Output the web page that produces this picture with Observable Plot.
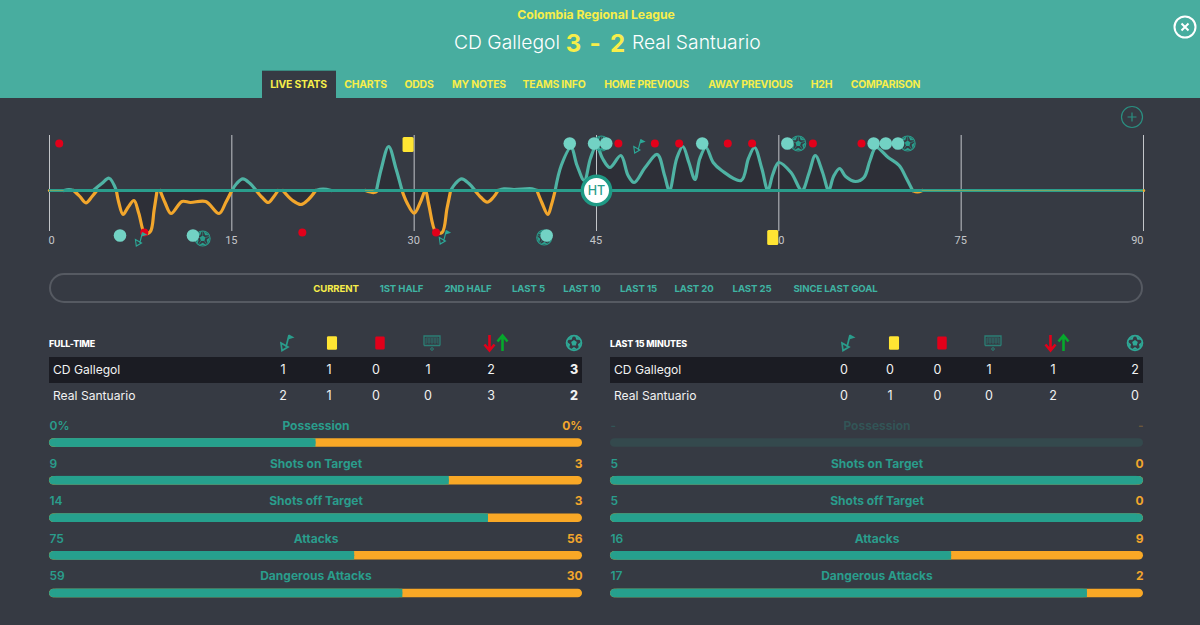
<!DOCTYPE html>
<html><head><meta charset="utf-8">
<script src="https://cdn.jsdelivr.net/npm/d3@7"></script>
<script src="https://cdn.jsdelivr.net/npm/@observablehq/plot@0.6"></script>
<style>
html,body{margin:0;padding:0;background:#363a43;}
#root{position:relative;width:1200px;height:625px;overflow:hidden;background:#363a43;font-family:Inter,"Open Sans",sans-serif;color:#fff;}
#root>div,#root>svg{position:absolute;}
.abs{position:absolute;white-space:nowrap;}
.c{transform:translate(-50%,-50%);}
svg{overflow:visible;}
</style></head><body><div id="root"></div>
<script>
// ---------- data ----------
const league = "Colombia Regional League";
const homeTeam = "CD Gallegol", awayTeam = "Real Santuario", score = ["3","-","2"];
const tabs = ["LIVE STATS","CHARTS","ODDS","MY NOTES","TEAMS INFO","HOME PREVIOUS","AWAY PREVIOUS","H2H","COMPARISON"];
const filters = ["CURRENT","1ST HALF","2ND HALF","LAST 5","LAST 10","LAST 15","LAST 20","LAST 25","SINCE LAST GOAL"];
const minuteTicks = [0,15,30,45,60,75,90];

// momentum curve: [minute, value]
const homeMomentum = [[0,0],[1.2,0],[1.6,1],[2,0],[3.6,0],[4.3,7],[4.9,12.3],[5.5,0],[15,0],[15.4,7],[15.9,11.7],[16.5,7],[17,0],[21.9,0],[22.5,1.3],[23.2,0],[26.9,0],[27.3,22],[27.9,44],[28.5,22],[29,0],[33,0],[33.4,7],[33.9,11.7],[34.5,7],[35,0],[36.9,0],[37.4,1.7],[38.2,1],[39.7,1.7],[40.1,0],[41.6,0],[42.1,25],[42.9,43],[43.4,25],[44,10],[44.5,32],[45,45],[45.5,32],[46.1,23],[47,35],[47.6,15],[48.1,8],[49,23],[50,36],[50.6,15],[51,0],[51.6,32],[52.1,44],[52.6,28],[53.1,11],[53.5,32],[54,43],[54.6,28],[55.3,20],[56.9,10],[57.5,32],[58,43],[58.6,22],[59.1,0],[59.5,16],[60,28],[61,18],[61.9,0],[62.5,18],[63,35],[63.6,18],[64.1,0],[64.5,14],[65,22],[65.5,14],[66.3,9],[67,13],[67.5,30],[68,43],[69,33],[69.9,25],[70.5,12],[71,0],[90,0]];
const awayMomentum = [[0,0],[2,0],[2.5,-6],[3,-12.3],[3.5,-6],[3.9,0],[5.5,0],[5.7,-12],[6.05,-24],[6.45,-17],[6.95,-10],[7.35,-23],[7.85,-43],[8.3,-41],[8.6,-20],[8.85,0],[9.1,0],[9.5,-12],[10,-23],[10.9,-11],[11.6,-12],[12.85,-11],[13.95,-23],[14.5,-12],[15,0],[17,0],[17.5,-7],[18,-12],[18.4,-7],[18.8,0],[19.2,0],[20,-10],[20.7,-14],[21.3,-9],[21.9,0],[26,0],[26.7,-2],[27,0],[29,0],[29.4,-12],[30,-22.7],[30.5,-12],[30.93,0],[31.2,-14],[31.8,-42],[32.3,-42],[32.7,-18],[33,0],[35,0],[35.5,-7],[36,-11.7],[36.5,-7],[36.9,0],[40.1,0],[40.5,-12],[41,-24],[41.3,-14],[41.6,0],[71,0],[71.4,-1.5],[71.8,0],[90,0]];
const quietStretches = [[0,1.2],[26,26.7],[71.8,90]];

// lanes of the event marks, on the momentum scale
const laneTop = 47, laneRed = -42, laneFlagTop = 44, laneFlagBottom = -49, laneBall = -48;
const redEvents = [[0.8,laneTop],[7.8,laneRed],[20.8,laneRed],[31.8,laneRed],[46.8,laneTop],[49.8,laneTop],[51.8,laneTop],[55.8,laneTop],[57.8,laneTop],[62.8,laneTop],[66.8,laneTop]];
const attackEvents = [[5.8,-45],[11.8,-45],[40.9,-45],[42.8,laneTop],[44.8,laneTop],[45.8,laneTop],[53.7,laneTop],[60.7,laneTop],[67.8,laneTop],[68.8,laneTop],[69.8,laneTop]];
const goalEvents = [[12.6,laneBall],[40.7,-47],[45.4,laneTop],[61.6,laneTop],[70.6,laneTop]];
const cornerEvents = [[7.5,laneFlagBottom],[32.5,-47],[48.5,laneFlagTop]];
const yellowEvents = [[29.5,46],[59.5,-47]];

const statColumns = ["corners","yellow","red","saves","subs","goals"];
const fullTimeTitle = "FULL-TIME", lastTitle = "LAST 15 MINUTES";
const fullHome = [1,1,0,1,2,3], fullAway = [2,1,0,0,3,2];
const lastHome = [0,0,0,1,1,2], lastAway = [0,1,0,0,2,0];

const statNames = ["Possession","Shots on Target","Shots off Target","Attacks","Dangerous Attacks"];
const fullHomeStats = [0,9,14,75,59], fullAwayStats = [0,3,3,56,30];
const fullHomeLabels = ["0%","9","14","75","59"], fullAwayLabels = ["0%","3","3","56","30"];
const lastHomeStats = [null,5,5,16,17], lastAwayStats = [null,0,0,9,2];
const lastHomeLabels = ["-","5","5","16","17"], lastAwayLabels = ["-","0","0","9","2"];

// ---------- colours ----------
const TEAL="#26a08d", TEALTXT="#2a9d8c", CURVE="#4fb3a4", ORANGE="#f2a62c", BAR_OR="#f9a826", DOT="#72d2c4", RED="#e2001a", YEL="#ffe533", TABYEL="#f7ee4a", AREA="#2d2f37";
const CURVE_KIND="catmull-rom";

// ---------- symbols ----------
const R = s => Math.sqrt(s/Math.PI);
function drawBallRing(c,r){ c.moveTo(r,0); c.arc(0,0,r,0,2*Math.PI); }
function drawBallPatches(c,r){
  const pts=[]; for(let i=0;i<5;i++){const a=-Math.PI/2+i*2*Math.PI/5; pts.push(a);}
  const q=r*0.4;
  pts.forEach((a,i)=>{ const x=Math.cos(a)*q,y=Math.sin(a)*q; i?c.lineTo(x,y):c.moveTo(x,y); }); c.closePath();
  pts.forEach(a=>{
    const o=a+Math.PI/5;
    const p=(ang,rad)=>[Math.cos(ang)*rad,Math.sin(ang)*rad];
    c.moveTo(...p(o-0.5,r)); c.lineTo(...p(o+0.5,r)); c.lineTo(...p(o,r*0.55)); c.closePath();
  });
}
function drawBallSpokes(c,r){
  for(let i=0;i<5;i++){
    const a=-Math.PI/2+i*2*Math.PI/5;
    c.moveTo(Math.cos(a)*r*0.4,Math.sin(a)*r*0.4); c.lineTo(Math.cos(a)*r*0.95,Math.sin(a)*r*0.95);
  }
}
function drawFlagLines(c,r){
  const u=r/8;
  c.moveTo(-1*u,4*u); c.lineTo(2*u,-8*u);
  c.moveTo(-6*u,0*u); c.lineTo(1*u,4*u); c.lineTo(-5*u,7.5*u); c.closePath();
}
function drawFlagCloth(c,r){
  const u=r/8;
  c.moveTo(2*u,-8.5*u); c.lineTo(7.5*u,-5.5*u); c.lineTo(1*u,-3.5*u); c.closePath();
}
function drawCard(c,r){
  const w=r*0.74,h=r,k=r*0.2;
  c.moveTo(-w+k,-h); c.lineTo(w-k,-h); c.arcTo(w,-h,w,-h+k,k); c.lineTo(w,h-k); c.arcTo(w,h,w-k,h,k);
  c.lineTo(-w+k,h); c.arcTo(-w,h,-w,h-k,k); c.lineTo(-w,-h+k); c.arcTo(-w,-h,-w+k,-h,k); c.closePath();
}
const sym = f => ({draw(c,s){f(c,R(s));}});
const pathOf = (f,r)=>{const p=d3.path(); f(p,r); return p.toString();};

const root = document.getElementById("root");
const add = (html)=>{const t=document.createElement("div"); t.innerHTML=html; return root.appendChild(t.firstElementChild);};
function text(s,x,y,css){add(`<div class="abs c" style="left:${x}px;top:${y}px;${css}">${s}</div>`);}
function textL(s,x,y,css){add(`<div class="abs" style="left:${x}px;top:${y}px;transform:translateY(-50%);${css}">${s}</div>`);}

// ---------- header ----------
add(`<div style="left:0;top:0;width:1200px;height:98px;background:#48ad9f"></div>`);
text(league,596,13.5,`font-size:12.2px;font-weight:700;color:${TABYEL}`);
add(`<div class="abs" style="right:${1200-560}px;top:42px;transform:translateY(-50%);font-size:19.3px;font-weight:300;color:#fff">${homeTeam}</div>`);
textL(awayTeam,632,42,`font-size:19.3px;font-weight:300;color:#fff`);
[573.5,595,617.5].forEach((x,i)=>text(score[i],x,43,`font-size:24px;font-weight:700;color:${TABYEL}`));
add(`<svg style="left:1173px;top:15px" width="24" height="24"><circle cx="12" cy="12" r="10.5" fill="none" stroke="#fff" stroke-width="2"/><path d="M8.5 8.5L15.5 15.5M15.5 8.5L8.5 15.5" stroke="#fff" stroke-width="2"/></svg>`);
add(`<div style="left:262px;top:70px;width:74px;height:28px;background:#363a43;border-top:1px solid #3b8a80;box-sizing:border-box"></div>`);
const tabX=[298.5,365.5,419,479,554,646.5,750.5,821.5,885.5];
tabs.forEach((t,i)=>text(t,tabX[i],84,`font-size:10.4px;font-weight:700;letter-spacing:-.2px;color:${TABYEL}`));
add(`<svg style="left:1120px;top:105px" width="24" height="24"><circle cx="12" cy="12" r="10.5" fill="none" stroke="#2a8f81" stroke-width="1.2"/><path d="M7.5 12H16.5M12 7.5V16.5" stroke="#2a8f81" stroke-width="1.2"/></svg>`);

// ---------- timeline ----------
// each swing away from the baseline is its own series, so the curve stays flat between swings
function toEpisodes(a){
  let ep=0; const rows=[];
  a.forEach(([minute,value],i)=>{
    if(i&&value===0&&a[i-1][1]===0) ep++;
    rows.push({minute,value,ep});
  });
  return rows;
}
const home = toEpisodes(homeMomentum), away = toEpisodes(awayMomentum);
const ev = a => a.map(([minute,lane])=>({minute,lane}));
const tickFill="#c4c6ca";
const series=(fillOrStroke)=>({x:"minute",y:"value",z:"ep",curve:CURVE_KIND,...fillOrStroke});
const timeline = Plot.plot({
  width:1200,height:150,marginLeft:49,marginRight:57,marginTop:0,marginBottom:0,
  style:{background:"transparent",overflow:"visible"},
  x:{domain:[0,90],axis:null},
  y:{domain:[-60,90],axis:null},
  marks:[
    Plot.areaY(home,series({fill:AREA})),
    Plot.areaY(away,series({fill:AREA})),
    Plot.ruleX(minuteTicks,{y1:55,y2:-41,stroke:"#c3c5c9",strokeWidth:1}),
    Plot.lineY(home,series({stroke:CURVE,strokeWidth:3.2})),
    Plot.lineY(away,series({stroke:ORANGE,strokeWidth:3.2})),
    Plot.ruleY([0],{stroke:"#2a9d8c",strokeWidth:2.8}),
    Plot.ruleY(quietStretches,{x1:d=>d[0],x2:d=>d[1],y:()=>0,stroke:"#8fa85a",strokeWidth:0.8}),
    Plot.text(minuteTicks.slice(0,1),{x:d=>d,y:()=>-50,text:d=>String(d),dx:2,fill:tickFill,fontSize:11,fontFamily:"Roboto"}),
    Plot.text(minuteTicks.slice(1,6),{x:d=>d,y:()=>-50,text:d=>String(d),dx:-0.5,fill:tickFill,fontSize:11,fontFamily:"Roboto"}),
    Plot.text(minuteTicks.slice(6),{x:d=>d,y:()=>-50,text:d=>String(d),textAnchor:"end",fill:tickFill,fontSize:11,fontFamily:"Roboto"}),
    Plot.dot(goalEvents,{x:d=>d[0],y:d=>d[1],symbol:sym(drawBallRing),r:7.5,fill:"none",stroke:"#2a9d8c",strokeWidth:1.1}),
    Plot.dot(goalEvents,{x:d=>d[0],y:d=>d[1],symbol:sym(drawBallSpokes),r:7.5,fill:"none",stroke:"#2a9d8c",strokeWidth:0.6}),
    Plot.dot(goalEvents,{x:d=>d[0],y:d=>d[1],symbol:sym(drawBallPatches),r:7.5,fill:"#2a9d8c",stroke:"none"}),
    Plot.dot(ev(attackEvents),{x:"minute",y:"lane",r:6.3,fill:DOT}),
    Plot.dot(ev(redEvents),{x:"minute",y:"lane",r:4,fill:RED}),
    Plot.dot(ev(cornerEvents),{x:"minute",y:"lane",symbol:sym(drawFlagLines),r:7,fill:"none",stroke:"#2ca897",strokeWidth:1.1}),
    Plot.dot(ev(cornerEvents),{x:"minute",y:"lane",symbol:sym(drawFlagCloth),r:7,fill:"#2ca897",stroke:"none"}),
    Plot.dot(ev(yellowEvents),{x:"minute",y:"lane",symbol:sym(drawCard),r:7.5,fill:YEL}),
    Plot.dot([45],{x:d=>d,y:()=>0,r:14.2,fill:"#fff",stroke:"#1f9a85",strokeWidth:3.4}),
    Plot.text(["HT"],{x:()=>45,y:()=>0,text:d=>d,fill:"#2a9d8c",fontSize:12.5,fontWeight:500,fontFamily:"Inter"})
  ]
});
timeline.style.cssText+=";position:absolute;left:0;top:100px;";
root.appendChild(timeline);

// ---------- filter pills ----------
add(`<div style="left:49px;top:273px;width:1094px;height:30px;box-sizing:border-box;border:2px solid #565a62;border-radius:15px"></div>`);
const filterX=[336,401.5,468,528.5,582,638.5,694,752,835.5];
filters.forEach((t,i)=>text(t,filterX[i],288,`font-size:9.6px;font-weight:700;letter-spacing:-.1px;color:${i?"#3fb3a2":TABYEL}`));

// ---------- tables ----------
function iconSvg(kind,x){
  const base=(w,h,inner)=>`<svg class="abs c" style="left:${x}px;top:343px" width="${w}" height="${h}" viewBox="${-w/2} ${-h/2} ${w} ${h}">${inner}</svg>`;
  if(kind==="corners") return base(20,20,`<path d="${pathOf(drawFlagLines,8)}" fill="none" stroke="#2a9d8c" stroke-width="1.7"/><path d="${pathOf(drawFlagCloth,8)}" fill="#2a9d8c"/>`);
  if(kind==="yellow") return base(14,16,`<path d="${pathOf(drawCard,6.8)}" fill="${YEL}"/>`);
  if(kind==="red") return base(14,16,`<path d="${pathOf(drawCard,6.4)}" fill="${RED}"/>`);
  if(kind==="saves") return base(20,18,`<path d="M-8 2.5V-7H8V2.5M-8 2.5H8" fill="none" stroke="#2b7f75" stroke-width="1.3"/><path d="M-6 1V-5H6V1M-6 -3H6M-6 -1H6M-3 -5V1M0 -5V1M3 -5V1" fill="none" stroke="#2b7f75" stroke-width="0.6"/><circle cx="0" cy="6" r="1.3" fill="none" stroke="#2b7f75"/>`);
  if(kind==="goals") return base(18,18,`<path d="${pathOf(drawBallRing,7.4)}" fill="none" stroke="#2fa896" stroke-width="1.8"/><path d="${pathOf(drawBallPatches,7.4)}" fill="#2fa896"/>`);
  return "";
}
function arrows(x){
  return `<svg class="abs c" style="left:${x}px;top:343px" width="28" height="18" viewBox="-14 -9 28 18">
   <path d="M-6.5 -8V6M-11.5 1.5L-6.5 7.5L-1.5 1.5" fill="none" stroke="${RED}" stroke-width="2.6"/>
   <path d="M6.5 8V-6M1.5 -1.5L6.5 -7.5L11.5 -1.5" fill="none" stroke="#06a82c" stroke-width="2.6"/></svg>`;
}
function table(left,title,iconX,valX,rowA,rowB){
  add(`<div style="left:${left}px;top:357px;width:533px;height:25.5px;background:#1b1c23"></div>`);
  textL(title,left,343,`font-size:8.9px;font-weight:800;letter-spacing:-.1px;color:#fff`);
  statColumns.forEach((k,i)=>{ add(k==="subs"?arrows(iconX[i]):iconSvg(k,iconX[i])); });
  [[homeTeam,rowA,369],[awayTeam,rowB,395]].forEach(([n,vals,y])=>{
    textL(n,left+4,y,`font-size:12.1px;font-weight:400;color:#f2f2f2`);
    vals.forEach((v,i)=>{
      const isGoal=i===5, bold=isGoal&&title===fullTimeTitle;
      text(v,valX[i],y,`font-size:12.5px;font-weight:${bold?800:400};color:#f2f2f2`);
    });
  });
}
table(49,fullTimeTitle,[287,332,380,432,495.5,573.5],[283,329,376,428,491,574],fullHome,fullAway);
table(610,lastTitle,[848,894,942,993,1056.5,1135],[844,890,937.5,989,1053,1135],lastHome,lastAway);

// ---------- stat bars ----------
function statPlot(left,homeVals,awayVals,homeLabels,awayLabels){
  const rows=statNames.map((stat,i)=>({stat,home:homeVals[i],away:awayVals[i],hl:homeLabels[i],al:awayLabels[i],empty:homeVals[i]==null}));
  const shares=rows.map(d=>{const t=(d.home||0)+(d.away||0); return {...d,homeShare:t?d.home/t:0.5};});
  const barStyle={y:"stat",insetTop:23.3,insetBottom:5.8};
  const live=shares.filter(d=>!d.empty), dim=shares.filter(d=>d.empty);
  const dimOp=d=>d.empty?0.28:1;
  const dy=-8.1, fs=12;
  const p=Plot.plot({
    width:533,height:188,marginLeft:0,marginRight:0,marginTop:0,marginBottom:0,
    style:{background:"transparent",overflow:"visible"},
    x:{domain:[0,1],axis:null},
    y:{domain:statNames,axis:null,padding:0,round:false},
    marks:[
      Plot.barX(dim,{x1:()=>0,x2:()=>1,...barStyle,fill:"#34494d",rx:4.3}),
      Plot.barX(live,{x1:()=>0,x2:()=>1,...barStyle,fill:BAR_OR,rx:4.3}),
      Plot.barX(live,{x1:()=>0,x2:d=>d.homeShare,...barStyle,fill:TEAL,rx:4.3}),
      Plot.barX(live,{x1:()=>0.012,x2:d=>Math.min(d.homeShare,0.988),...barStyle,fill:TEAL}),
      Plot.text(shares,{x:()=>0,y:"stat",text:"hl",textAnchor:"start",dy,fill:TEALTXT,fillOpacity:dimOp,fontSize:fs,fontWeight:600,fontFamily:"Inter"}),
      Plot.text(shares,{x:()=>0.5,y:"stat",text:"stat",dy,fill:TEALTXT,fillOpacity:dimOp,fontSize:fs,fontWeight:700,fontFamily:"Inter"}),
      Plot.text(shares,{x:()=>1,y:"stat",text:"al",textAnchor:"end",dy,fill:ORANGE,fillOpacity:dimOp,fontSize:fs,fontWeight:700,fontFamily:"Inter"})
    ]
  });
  p.style.cssText+=`;position:absolute;left:${left}px;top:415px;`;
  root.appendChild(p);
}
statPlot(49,fullHomeStats,fullAwayStats,fullHomeLabels,fullAwayLabels);
statPlot(610,lastHomeStats,lastAwayStats,lastHomeLabels,lastAwayLabels);
</script></body></html>
